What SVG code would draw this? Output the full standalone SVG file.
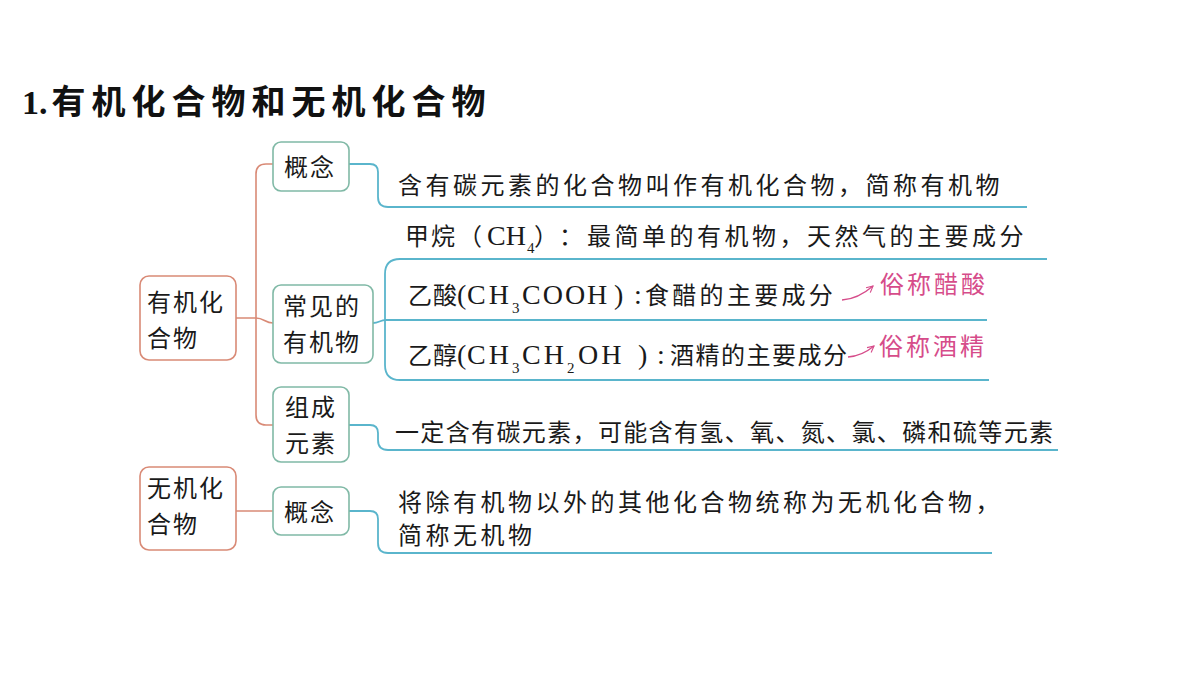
<svg xmlns="http://www.w3.org/2000/svg" width="1200" height="675" viewBox="0 0 1200 675">
<defs>
<style>
.t{font-family:"Liberation Serif","Noto Sans CJK SC",serif;font-size:24px;fill:#1a1a1a;letter-spacing:3.5px}
.n{font-family:"Liberation Serif","Noto Sans CJK SC",serif;font-size:24px;fill:#1a1a1a;letter-spacing:2px}
.la{font-size:28px;letter-spacing:0px}
.sub{font-size:15px;letter-spacing:0px}
.pk{font-family:"Noto Sans CJK SC",sans-serif;font-size:24px;fill:#d64c8a;letter-spacing:3px}
.bb{fill:#fff;stroke:#d98a76;stroke-width:1.6}
.gb{fill:#fff;stroke:#80b9a6;stroke-width:1.6}
.bc{fill:none;stroke:#d98a76;stroke-width:1.6}
.lc{fill:none;stroke:#5ab5cc;stroke-width:1.8}
.ar{fill:none;stroke:#d64c8a;stroke-width:1.3}
</style>
<marker id="ah" viewBox="0 0 10 10" refX="9" refY="5" markerWidth="8" markerHeight="8" orient="auto" markerUnits="userSpaceOnUse"><path d="M1,1 L9,5 L1,9" fill="none" stroke="#d64c8a" stroke-width="1.4"/></marker>
</defs>
<rect width="1200" height="675" fill="#fff"/>

<g id="title">
<text x="22" y="114" style="font-family:'Liberation Serif','Noto Sans CJK SC',serif;font-size:34px;font-weight:700;fill:#111"><tspan>1.</tspan><tspan dx="4" style="letter-spacing:6px">有机化合物和无机化合物</tspan></text>
</g>

<g id="connectors">
<path class="bc" d="M273,164 H266 Q256,164 256,174 V415 Q256,425 266,425 H273"/>
<path class="bc" d="M236,318 H256 C264,318 265,323 273,323"/>
<path class="bc" d="M236,511 H273"/>
<path class="lc" d="M349,164 H370 Q378,164 378,172 V197 Q378,207 388,207 H1027"/>
<path class="lc" d="M373,323 C379,323 380,320 386,320 H987"/>
<path class="lc" d="M1047,259 H400 Q385,259 385,274 V365 Q385,380 400,380 H989"/>
<path class="lc" d="M349,425 H370 Q378,425 378,433 V440 Q378,450 388,450 H1058"/>
<path class="lc" d="M349,511 H370 Q378,511 378,519 V543 Q378,553 388,553 H992"/>
<path class="ar" d="M842,300 Q858,299 873,286" marker-end="url(#ah)"/>
<path class="ar" d="M848,357 Q862,356 874,346" marker-end="url(#ah)"/>
</g>

<g id="node-organic">
<rect class="bb" x="140" y="276" width="96" height="84" rx="9"/>
<text class="n" x="147" y="311">有机化</text>
<text class="n" x="147" y="347">合物</text>
</g>

<g id="node-inorganic">
<rect class="bb" x="140" y="467" width="96" height="83" rx="9"/>
<text class="n" x="147" y="497">无机化</text>
<text class="n" x="147" y="533">合物</text>
</g>

<g id="node-concept1">
<rect class="gb" x="273" y="142" width="76" height="49" rx="8"/>
<text class="n" x="284" y="176">概念</text>
</g>

<g id="node-common">
<rect class="gb" x="273" y="285" width="100" height="78" rx="8"/>
<text class="n" x="283" y="315">常见的</text>
<text class="n" x="283" y="351">有机物</text>
</g>

<g id="node-composition">
<rect class="gb" x="273" y="387" width="76" height="75" rx="8"/>
<text class="n" x="285" y="416">组成</text>
<text class="n" x="285" y="452">元素</text>
</g>

<g id="node-concept2">
<rect class="gb" x="273" y="487" width="76" height="48" rx="8"/>
<text class="n" x="284" y="521">概念</text>
</g>

<g id="text-def1">
<text class="t" x="398" y="194">含有碳元素的化合物叫作有机化合物，简称有机物</text>
</g>

<g id="text-methane">
<text class="t" y="245"><tspan x="405" style="letter-spacing:2px">甲烷</tspan><tspan x="458">（</tspan><tspan x="487" class="la">CH</tspan><tspan x="527" y="253" class="sub">4</tspan><tspan x="534" y="245" style="letter-spacing:0px">）</tspan><tspan x="559">：</tspan><tspan x="587">最简单的有机物，天然气的主要成分</tspan></text>
</g>

<g id="text-acetic">
<text class="t" y="304"><tspan x="408" style="letter-spacing:1px">乙酸</tspan><tspan x="457" class="la">(</tspan><tspan x="467" class="la" style="letter-spacing:3px">CH</tspan><tspan x="512" y="313" class="sub">3</tspan><tspan x="522" y="304" class="la" style="letter-spacing:2px">COOH</tspan><tspan x="614" class="la">)</tspan><tspan x="634" class="la">:</tspan><tspan x="645" style="letter-spacing:3.3px">食醋的主要成分</tspan></text>
<text class="pk" x="880" y="293">俗称醋酸</text>
</g>

<g id="text-ethanol">
<text class="t" y="364"><tspan x="408" style="letter-spacing:1px">乙醇</tspan><tspan x="457" class="la">(</tspan><tspan x="467" class="la" style="letter-spacing:3px">CH</tspan><tspan x="512" y="373" class="sub">3</tspan><tspan x="522" y="364" class="la" style="letter-spacing:3px">CH</tspan><tspan x="567" y="373" class="sub">2</tspan><tspan x="578" y="364" class="la" style="letter-spacing:3px">OH</tspan><tspan x="638" class="la">)</tspan><tspan x="657" class="la">:</tspan><tspan x="670" style="letter-spacing:1.5px">酒精的主要成分</tspan></text>
<text class="pk" x="879" y="355">俗称酒精</text>
</g>

<g id="text-composition">
<text class="t" x="395" y="441" textLength="658" lengthAdjust="spacing" style="letter-spacing:0px">一定含有碳元素，可能含有氢、氧、氮、氯、磷和硫等元素</text>
</g>

<g id="text-def2">
<text class="t" x="398" y="511">将除有机物以外的其他化合物统称为无机化合物，</text>
<text class="t" x="398" y="544">简称无机物</text>
</g>
</svg>
